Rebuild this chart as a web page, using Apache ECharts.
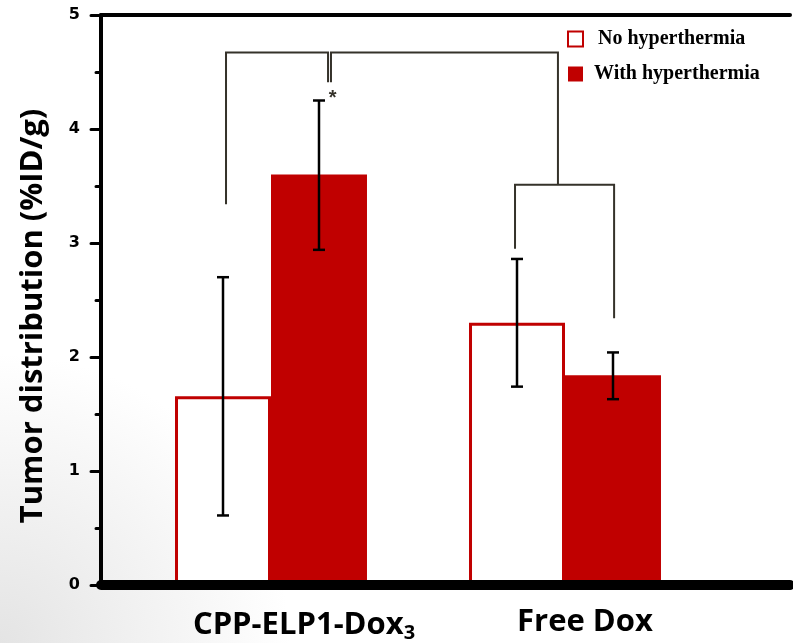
<!DOCTYPE html>
<html>
<head>
<meta charset="utf-8">
<script src="https://cdn.jsdelivr.net/npm/echarts@6/dist/echarts.min.js"></script>
<style>html,body{margin:0;padding:0;background:#fff}#c{width:793px;height:643px}</style>
</head>
<body>
<div id="c"></div>
<script>
// ---- data ----
const categories = ['CPP-ELP1-Dox3', 'Free Dox'];
const seriesNames = ['No hyperthermia', 'With hyperthermia'];
const noHyper = [1.655, 2.30];
const withHyper = [3.60, 1.84];
const noHyperErr = [[0.61, 2.70], [1.74, 2.86]];
const withHyperErr = [[2.94, 4.25], [1.63, 2.04]];
const yTickValues = [0, 1, 2, 3, 4, 5];
// significance brackets: points [categoryIndex, offset within band, value]
const bracketLines = [
  [[0, -0.153, 3.34], [0, -0.153, 4.67], [0, 0.194, 4.67], [0, 0.194, 4.41]],
  [[0, 0.204, 4.41], [0, 0.204, 4.67], [1, -0.024, 4.67], [1, -0.024, 3.51]],
  [[1, -0.170, 2.95], [1, -0.170, 3.51], [1, 0.167, 3.51], [1, 0.167, 2.34]]
];
const starMarks = [[0, 0.21, 4.27]];

const RED = '#C00000';
const BR = '#35322a';

const errData = [];
noHyperErr.forEach((e, i) => errData.push([i, e[0], e[1], 0]));
withHyperErr.forEach((e, i) => errData.push([i, e[0], e[1], 1]));

const legendFont = {fontFamily: 'Liberation Serif', fontWeight: 'bold', fontSize: 20, color: '#000'};

const chart = echarts.init(document.getElementById('c'));
chart.setOption({
  animation: false,
  backgroundColor: {
    type: 'radial', x: 0, y: 1, r: 0.45,
    colorStops: [{offset: 0, color: '#e4e4e4'}, {offset: 1, color: '#ffffff'}]
  },
  legend: {
    data: seriesNames,
    orient: 'vertical',
    left: 567, top: 29, padding: 0,
    itemWidth: 15, itemHeight: 15, itemGap: 15,
    icon: 'rect',
    formatter: n => (n === seriesNames[0] ? '{a|' + n + '}' : '{b|' + n + '}'),
    textStyle: Object.assign({}, legendFont, {
      rich: {
        a: Object.assign({}, legendFont, {padding: [0, 0, 0, 10]}),
        b: Object.assign({}, legendFont, {padding: [0, 0, 0, 6]})
      }
    })
  },
  grid: [
    {left: 101, right: 3, top: 15, bottom: 58},
    {left: 124, right: 81, top: 15, bottom: 58}
  ],
  xAxis: [
    {gridIndex: 0, type: 'value', min: 0, max: 1, position: 'bottom', z: 10,
     axisLine: {show: true, lineStyle: {color: '#000', width: 10}},
     axisTick: {show: false}, axisLabel: {show: false}, splitLine: {show: false}},
    {gridIndex: 0, type: 'value', min: 0, max: 1, position: 'top', z: 10,
     axisLine: {show: true, lineStyle: {color: '#000', width: 4}},
     axisTick: {show: false}, axisLabel: {show: false}, splitLine: {show: false}},
    {gridIndex: 1, type: 'category', data: categories,
     axisLine: {show: false}, axisTick: {show: false}, splitLine: {show: false},
     axisLabel: {
       margin: 22,
       formatter: function (v) {
         if (v === 'CPP-ELP1-Dox3') return '{a|CPP-ELP1-Dox}{s|3}';
         return '{b|' + v + '}';
       },
       rich: {
         a: {fontFamily: 'Open Sans', fontWeight: 'bold', fontSize: 31, color: '#000', padding: [0, 0, 0, 66]},
         s: {fontFamily: 'Open Sans', fontWeight: 'bold', fontSize: 20, color: '#000', padding: [16, 0, 0, 0]},
         b: {fontFamily: 'Open Sans', fontWeight: 'bold', fontSize: 31, color: '#000', padding: [0, 0, 0, 40]}
       }
     }}
  ],
  yAxis: [
    {gridIndex: 0, type: 'value', min: 0, max: 5, interval: 1, z: 10,
     name: 'Tumor distribution (%ID/g)', nameLocation: 'middle', nameGap: 52,
     nameTextStyle: {fontFamily: 'Open Sans', fontWeight: 'bold', fontSize: 31, color: '#000', padding: [0, 32, 0, 0]},
     axisLine: {show: true, lineStyle: {color: '#000', width: 4}},
     axisTick: {show: true, length: 10, lineStyle: {color: '#000', width: 3, cap: 'round'}},
     minorTick: {show: true, splitNumber: 2, length: 5, lineStyle: {color: '#000', width: 3, cap: 'round'}},
     axisLabel: {margin: 21, fontFamily: 'DejaVu Sans', fontWeight: 'bold', fontSize: 16, color: '#000',
       formatter: v => (yTickValues.indexOf(v) >= 0 ? String(v) : '')},
     splitLine: {show: false}},
    {gridIndex: 1, type: 'value', min: 0, max: 5, interval: 1, show: false}
  ],
  series: [
    {name: seriesNames[0], type: 'bar', xAxisIndex: 2, yAxisIndex: 1, data: noHyper,
     barGap: 0, barCategoryGap: '34.7%',
     itemStyle: {color: '#ffffff', borderColor: RED, borderWidth: 3}},
    {name: seriesNames[1], type: 'bar', xAxisIndex: 2, yAxisIndex: 1, data: withHyper,
     barGap: 0, barCategoryGap: '34.7%',
     itemStyle: {color: RED}},
    {type: 'custom', xAxisIndex: 2, yAxisIndex: 1, data: errData, z: 5,
     encode: {x: 0, y: [1, 2]},
     renderItem: function (params, api) {
       const cat = api.value(0), lo = api.value(1), hi = api.value(2), slot = api.value(3);
       const band = api.size([1, 0])[0];
       const off = (slot === 0 ? -1 : 1) * band * 0.16325;
       const pLo = api.coord([cat, lo]), pHi = api.coord([cat, hi]);
       const x = pLo[0] + off, c = 6;
       const st = {stroke: '#000', lineWidth: 2.5};
       return {type: 'group', children: [
         {type: 'line', shape: {x1: x, y1: pHi[1], x2: x, y2: pLo[1]}, style: st},
         {type: 'line', shape: {x1: x - c, y1: pHi[1], x2: x + c, y2: pHi[1]}, style: st},
         {type: 'line', shape: {x1: x - c, y1: pLo[1], x2: x + c, y2: pLo[1]}, style: st}
       ]};
     }},
    {type: 'custom', xAxisIndex: 2, yAxisIndex: 1, z: 5,
     data: bracketLines.map(pl => [pl[0][0], pl[0][2]]),
     encode: {x: 0, y: 1},
     renderItem: function (params, api) {
       const pl = bracketLines[params.dataIndex];
       const band = api.size([1, 0])[0];
       const pts = pl.map(p => {
         const c = api.coord([p[0], p[2]]);
         return [c[0] + p[1] * band, c[1]];
       });
       return {type: 'polyline', shape: {points: pts}, style: {stroke: BR, lineWidth: 2, fill: null}};
     }},
    {type: 'custom', xAxisIndex: 2, yAxisIndex: 1, z: 5,
     data: starMarks.map(s => [s[0], s[2]]),
     encode: {x: 0, y: 1},
     renderItem: function (params, api) {
       const s = starMarks[params.dataIndex];
       const band = api.size([1, 0])[0];
       const c = api.coord([s[0], s[2]]);
       return {type: 'text', x: c[0] + s[1] * band, y: c[1],
         style: {text: '*', fill: BR, font: 'bold 20px "Liberation Sans"', align: 'center', verticalAlign: 'middle'}};
     }}
  ]
});
</script>
</body>
</html>
